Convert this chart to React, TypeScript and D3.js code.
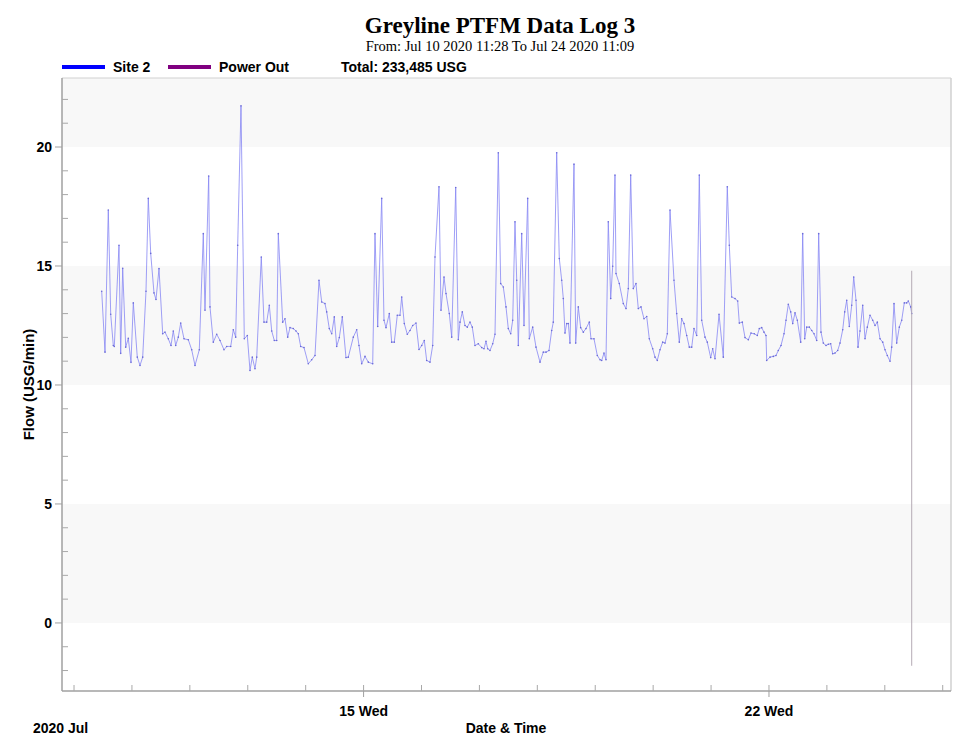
import React from "react";
import * as d3 from "d3";

const TITLE = "Greyline PTFM Data Log 3";
const SUBTITLE = "From: Jul 10 2020 11:28 To Jul 24 2020 11:09";
const LEGEND_NAMES = ["Site 2", "Power Out"];
const LEGEND_COLORS = ["#0000ff", "#800080"];
const TOTAL_LABEL = "Total: 233,485 USG";
const Y_TITLE = "Flow (USG/min)";
const X_TITLE = "Date & Time";
const X_YEAR_LABEL = "2020 Jul";

const START = new Date(2020, 6, 10, 11, 28);
const END = new Date(2020, 6, 24, 11, 9);
const X_DOMAIN = [new Date(2020, 6, 9, 19, 1), new Date(2020, 6, 25, 3, 26)];
const Y_DOMAIN = [-2.86, 22.9];

// hours since START
const hours = [
  0, 1.37, 2.74, 3.73, 4.81, 5.22, 7.17, 7.87, 8.7, 9.95, 11.02, 12.14, 13.1, 14.75, 15.87, 16.99,
  18.36, 19.31, 20.31, 21.67, 22.5, 23.75, 25.28, 26.23, 27.6, 28.72, 29.67, 30.67, 31.74, 32.74,
  34.11, 35.89, 37.3, 38.67, 40.45, 42.11, 42.81, 44.34, 44.88, 46.25, 47.66, 49.03, 50.68, 51.8,
  53.46, 54.54, 55.53, 56.36, 57.73, 59.1, 60.34, 61.46, 62.41, 63.53, 64.24, 66.14, 67.26, 68.38,
  69.46, 70.45, 71.53, 72.52, 73.19, 75.01, 75.96, 77.08, 78.04, 79.4, 80.52, 81.47, 82.47, 83.84,
  85.62, 87.03, 88.4, 90.05, 91.17, 92.54, 93.24, 94.32, 95.32, 96.39, 97.39, 98.47, 99.71, 101.24,
  102.2, 104.27, 105.68, 106.63, 107.75, 109.12, 110.49, 112.31, 113.26, 114.38, 116.04, 116.99,
  117.82, 119.19, 120.18, 121.26, 122.5, 123.62, 124.33, 125.4, 126.65, 127.77, 128.89, 130.25,
  131.5, 132.61, 133.69, 134.68, 136.05, 137.17, 138.13, 139.78, 140.61, 141.86, 142.69, 144.05,
  145.05, 146.71, 147.78, 148.49, 149.44, 150.56, 151.51, 152.63, 153.58, 154.7, 156.07, 157.48,
  158.43, 159.26, 159.97, 160.92, 162.04, 162.99, 164.36, 165.35, 166.43, 167.55, 168.5, 169.5,
  170.33, 171.28, 171.99, 172.65, 174.06, 175.01, 176.54, 177.21, 178.61, 179.98, 181.64, 183.01,
  184.13, 185.37, 186.49, 187.15, 188.56, 189.64, 190.63, 191.3, 192.0, 192.71, 193.37, 194.07,
  195.73, 196.43, 197.51, 198.5, 199.59, 200.7, 202.07, 202.78, 204.02, 205.39, 206.51, 207.21,
  208.16, 208.99, 209.94, 210.94, 211.77, 212.72, 213.14, 214.5, 216.16, 217.28, 218.23, 219.23,
  220.3, 221.42, 222.38, 223.5, 224.74, 225.86, 226.94, 228.35, 229.3, 230.25, 231.37, 232.49,
  233.45, 234.4, 235.52, 237.17, 238.29, 239.37, 240.36, 241.32, 242.44, 243.51, 244.51, 245.46,
  246.58, 247.66, 248.65, 250.02, 250.97, 252.38, 253.21, 254.17, 255.83, 257.61, 259.26, 260.09,
  261.09, 262.46, 263.57, 264.24, 265.48, 266.6, 267.97, 269.08, 270.45, 271.69, 272.52, 273.52,
  274.47, 275.3, 275.59, 276.96, 278.33, 279.44, 280.4, 281.52, 282.76, 283.59, 284.54, 285.54,
  286.37, 287.32, 288.27, 289.68, 290.51, 291.34, 292.17, 293.25, 294.24, 295.2, 296.31, 297.14,
  298.09, 299.05, 300.17, 301.12, 302.11, 302.94, 303.89, 305.01, 305.97, 307.09, 307.92, 308.75,
  309.82, 310.82, 311.65, 312.6, 313.43, 314.26, 315.38, 316.33, 317.28, 318.4, 319.52, 320.48,
  321.43, 322.55, 323.66, 324.62, 325.57, 326.69, 327.39, 328.35, 329.46, 330.54, 331.54, 332.61,
  333.61, 334.27, 335.27, 335.68,
];

// Site 2 flow, USG/min
const flow = [
  13.94, 11.38, 17.35, 12.97, 11.66, 11.62, 15.87, 11.33, 14.9, 11.59, 11.96, 10.95, 13.45, 11.17,
  10.82, 11.17, 13.94, 17.84, 15.53, 13.87, 13.59, 14.89, 12.15, 12.22, 11.94, 11.66, 12.27, 11.66,
  12.01, 12.6, 11.94, 11.9, 11.48, 10.82, 11.48, 16.36, 13.14, 18.78, 13.28, 11.8, 12.13, 11.87,
  11.48, 11.62, 11.62, 12.32, 12.01, 15.87, 21.73, 11.94, 12.08, 10.61, 11.17, 10.68, 11.17, 15.38,
  12.64, 12.64, 13.35, 12.27, 11.87, 11.87, 16.36, 12.64, 12.78, 12.01, 12.41, 12.37, 12.27, 12.15,
  11.62, 11.57, 10.89, 11.06, 11.24, 14.4, 13.49, 13.42, 13.07, 12.37, 12.15, 12.86, 11.62, 11.99,
  12.86, 11.15, 11.17, 12.01, 12.32, 11.66, 10.89, 11.2, 10.96, 10.89, 16.36, 12.46, 17.84, 12.72,
  12.41, 13.0, 11.8, 11.8, 12.93, 12.93, 13.7, 12.58, 12.13, 12.29, 12.5, 12.6, 11.49, 11.66, 11.87,
  11.03, 10.96, 11.66, 15.38, 18.33, 13.14, 14.54, 13.84, 13.0, 12.01, 18.3, 11.9, 12.64, 13.07,
  12.5, 12.43, 12.64, 12.43, 11.66, 11.73, 11.57, 11.52, 11.84, 11.52, 11.45, 11.73, 12.13, 19.76,
  14.26, 14.12, 13.28, 12.37, 12.15, 12.72, 16.86, 14.4, 11.66, 16.36, 12.5, 17.84, 11.94, 12.43,
  11.59, 10.96, 11.38, 11.38, 11.45, 12.29, 12.64, 19.76, 15.31, 14.4, 13.63, 12.18, 12.58, 12.58,
  11.76, 19.28, 11.76, 13.28, 12.41, 12.22, 12.37, 12.64, 11.94, 11.94, 11.24, 11.06, 11.03, 11.34,
  11.06, 16.86, 13.63, 14.99, 18.82, 14.68, 14.26, 13.42, 13.21, 14.05, 18.82, 14.05, 14.26, 13.21,
  13.28, 12.78, 12.88, 11.94, 11.52, 11.17, 11.03, 11.48, 11.8, 11.76, 12.15, 17.35, 14.4, 13.0,
  11.8, 12.78, 12.58, 12.08, 11.59, 11.59, 12.37, 12.08, 18.82, 12.72, 12.01, 11.8, 11.15, 11.52,
  11.1, 12.97, 11.17, 18.33, 15.87, 13.7, 13.63, 13.53, 12.6, 12.64, 11.99, 11.9, 12.18, 12.15,
  12.08, 12.37, 12.41, 12.22, 12.08, 11.03, 11.17, 11.2, 11.24, 11.45, 11.66, 12.15, 12.72, 13.39,
  13.07, 12.58, 13.03, 12.72, 11.8, 16.36, 11.94, 12.43, 12.43, 12.29, 12.15, 11.87, 16.36, 12.22,
  11.76, 11.66, 11.71, 11.73, 11.31, 11.34, 11.45, 11.76, 12.32, 13.07, 13.56, 12.46, 13.35, 14.54,
  13.56, 11.59, 12.27, 13.35, 11.94, 12.43, 12.93, 12.72, 12.5, 12.64, 11.94, 11.8, 11.48, 11.24,
  11.0, 11.59, 13.42, 11.76, 12.43, 12.72, 13.45, 13.45, 13.53, 13.28, 13.0,
];

const END_MARKER = [14.8, -1.8];
const yMajorTicks = [0, 5, 10, 15, 20];
const xMajorDates = [new Date(2020, 6, 15), new Date(2020, 6, 22)];
const xMajorLabels = ["15 Wed", "22 Wed"];
const shadedBands = [[20, 22.9], [10, 15], [0, 5]];

const W = 960;
const H = 745;
const PLOT = { left: 62, right: 951, top: 78, bottom: 691 };
const SANS = "'Liberation Sans', Arial, sans-serif";
const SERIF = "'Liberation Serif', 'Times New Roman', serif";

export default function App() {
  const x = d3.scaleTime().domain(X_DOMAIN).range([PLOT.left, PLOT.right]);
  const y = d3.scaleLinear().domain(Y_DOMAIN).range([PLOT.bottom, PLOT.top]);

  const points = hours.map((h, i) => ({
    t: new Date(START.getTime() + h * 3600 * 1000),
    v: flow[i],
  }));
  const line = d3
    .line<{ t: Date; v: number }>()
    .x((d) => x(d.t))
    .y((d) => y(d.v));

  const yMinor = d3.range(Math.ceil(Y_DOMAIN[0]), Math.floor(Y_DOMAIN[1]) + 1).filter((v) => v % 5 !== 0);
  const xMinor = d3.timeDay.range(d3.timeDay.ceil(X_DOMAIN[0]), X_DOMAIN[1]);

  return (
    <svg
      width={W}
      height={H}
      style={{ position: "absolute", left: 0, top: 0, background: "#fff" }}
    >
      {/* title */}
      <text x={500} y={33} textAnchor="middle" fontFamily={SERIF} fontWeight="bold" fontSize={23} fill="#000">
        {TITLE}
      </text>
      <text x={500} y={51} textAnchor="middle" fontFamily={SERIF} fontSize={14.5} fill="#000">
        {SUBTITLE}
      </text>

      {/* legend */}
      {LEGEND_NAMES.map((n, i) => {
        const lx = [62, 168][i];
        return (
          <g key={n}>
            <line x1={lx} x2={lx + 43} y1={67} y2={67} stroke={LEGEND_COLORS[i]} strokeWidth={4} />
            <text x={lx + 51} y={72} fontFamily={SANS} fontWeight="bold" fontSize={14} fill="#000">
              {n}
            </text>
          </g>
        );
      })}
      <text x={341} y={72} fontFamily={SANS} fontWeight="bold" fontSize={14} fill="#000">
        {TOTAL_LABEL}
      </text>

      {/* plot background bands */}
      <rect x={PLOT.left} y={PLOT.top} width={PLOT.right - PLOT.left} height={PLOT.bottom - PLOT.top} fill="#ffffff" />
      {shadedBands.map(([a, b], i) => (
        <rect
          key={i}
          x={PLOT.left}
          y={y(Math.min(b, Y_DOMAIN[1]))}
          width={PLOT.right - PLOT.left}
          height={y(a) - y(Math.min(b, Y_DOMAIN[1]))}
          fill="#f8f8f8"
        />
      ))}
      {/* frame */}
      <line x1={PLOT.left} x2={PLOT.right} y1={PLOT.top} y2={PLOT.top} stroke="#d0d0d0" strokeWidth={1} />
      <line x1={PLOT.right} x2={PLOT.right} y1={PLOT.top} y2={PLOT.bottom} stroke="#d0d0d0" strokeWidth={1.5} />

      {/* data line */}
      <path d={line(points) || ""} fill="none" stroke="#8686f4" strokeWidth={0.8} />
      {points.map((p, i) => (
        <circle key={i} cx={x(p.t)} cy={y(p.v)} r={0.8} fill="#6a6ad6" />
      ))}
      <line
        x1={x(END)}
        x2={x(END)}
        y1={y(END_MARKER[0])}
        y2={y(END_MARKER[1])}
        stroke="#b4aab4"
        strokeWidth={1}
      />

      {/* y axis */}
      <line x1={PLOT.left} x2={PLOT.left} y1={PLOT.top} y2={PLOT.bottom} stroke="#a0a0a0" strokeWidth={1.5} />
      {yMinor.map((v) => (
        <line key={v} x1={PLOT.left} x2={PLOT.left + 6} y1={y(v)} y2={y(v)} stroke="#a8a8a8" strokeWidth={1} />
      ))}
      {yMajorTicks.map((v) => (
        <g key={v}>
          <line x1={PLOT.left - 7} x2={PLOT.left} y1={y(v)} y2={y(v)} stroke="#a0a0a0" strokeWidth={1} />
          <text x={PLOT.left - 10} y={y(v) + 5} textAnchor="end" fontFamily={SANS} fontWeight="bold" fontSize={14} fill="#000">
            {v}
          </text>
        </g>
      ))}
      <text
        transform={`translate(34, ${(PLOT.top + PLOT.bottom) / 2 + 0}) rotate(-90)`}
        textAnchor="middle"
        fontFamily={SANS}
        fontWeight="bold"
        fontSize={15}
        fill="#000"
      >
        {Y_TITLE}
      </text>

      {/* x axis */}
      <line x1={PLOT.left} x2={PLOT.right} y1={PLOT.bottom} y2={PLOT.bottom} stroke="#a0a0a0" strokeWidth={1.5} />
      {xMinor.map((d) => (
        <line key={d.getTime()} x1={x(d)} x2={x(d)} y1={PLOT.bottom - 6} y2={PLOT.bottom} stroke="#a8a8a8" strokeWidth={1} />
      ))}
      {xMajorDates.map((d, i) => (
        <g key={i}>
          <line x1={x(d)} x2={x(d)} y1={PLOT.bottom} y2={PLOT.bottom + 6} stroke="#a0a0a0" strokeWidth={1} />
          <text x={x(d)} y={716} textAnchor="middle" fontFamily={SANS} fontWeight="bold" fontSize={14} fill="#000">
            {xMajorLabels[i]}
          </text>
        </g>
      ))}
      <text x={33} y={733} fontFamily={SANS} fontWeight="bold" fontSize={14} fill="#000">
        {X_YEAR_LABEL}
      </text>
      <text x={506} y={733} textAnchor="middle" fontFamily={SANS} fontWeight="bold" fontSize={14} fill="#000">
        {X_TITLE}
      </text>
    </svg>
  );
}
